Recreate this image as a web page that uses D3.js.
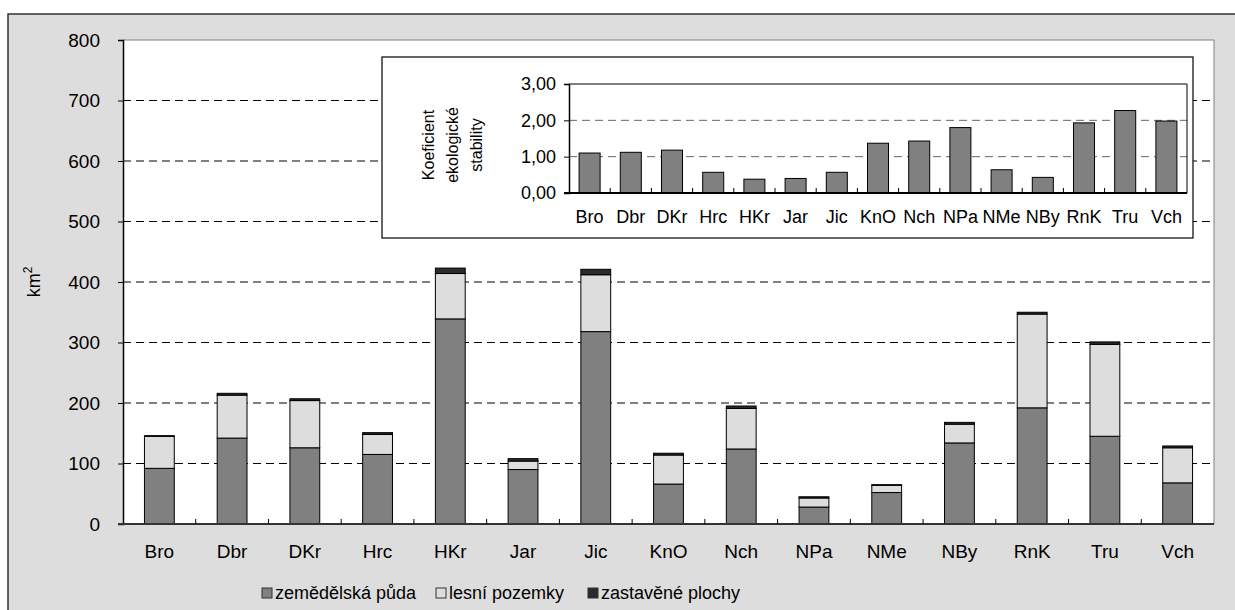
<!DOCTYPE html>
<html>
<head>
<meta charset="utf-8">
<script src="https://cdn.jsdelivr.net/npm/d3@7"></script>
<style>
	body { margin:0; background:#fff; }
	svg { font-family:"Liberation Sans", Arial, sans-serif; }
</style>
</head>
<body>
<svg id="chart" width="1235" height="610"></svg>
<script>
// okresy
var okresy = ["Bro","Dbr","DKr","Hrc","HKr","Jar","Jic","KnO","Nch","NPa","NMe","NBy","RnK","Tru","Vch"]

// km2
var zemedelska = [92,142,126,115,339,90,318,66,124,28,52,134,192,145,68]
var lesni      = [53,71,78,33,75,14,94,48,67,15,12,31,155,152,58]
var zastavene  = [1,3,3,3,9,4,9,3,4,2,1,3,3,4,3]

// koeficient ekologicke stability
var kes = [1.10,1.12,1.18,0.57,0.38,0.40,0.57,1.37,1.43,1.80,0.64,0.43,1.93,2.27,1.98]

var yTicks = [0,100,200,300,400,500,600,700,800]
var kesTicks = [0,1,2,3]
var nazvy = ["zemědělská půda","lesní pozemky","zastavěné plochy"]
var barvy = ["#808080","#dddddd","#2b2b2b"]

var svg = d3.select("#chart")

// pozadi grafu
svg.append("rect")
	.attr("x",8).attr("y",14)
	.attr("width",1240).attr("height",610)
	.attr("fill","#dddddd")
	.attr("stroke","#333").attr("stroke-width",1.5)

var pLeft = 123, pRight = 1214, pTop = 40, pBottom = 524

var x = d3.scaleBand().domain(okresy).range([pLeft,pRight]).paddingInner(0.59).paddingOuter(0.295)
var y = d3.scaleLinear().domain([0,800]).range([pBottom,pTop])

svg.append("rect")
	.attr("x",pLeft).attr("y",pTop)
	.attr("width",pRight-pLeft).attr("height",pBottom-pTop)
	.attr("fill","#fff")

// mrizka
svg.append("g").selectAll("line")
	.data(yTicks.slice(1,-1))
	.join("line")
	.attr("x1",pLeft).attr("x2",pRight)
	.attr("y1",d=>y(d)).attr("y2",d=>y(d))
	.attr("stroke","#000").attr("stroke-dasharray","8,5")

// ramecek vpravo a nahore
svg.append("path")
	.attr("d","M"+pLeft+","+y(800)+"H"+pRight+"V"+pBottom)
	.attr("fill","none").attr("stroke","#808080")

// sloupce
var tabulka = okresy.map(function(o,i){ return {okres:o, z:zemedelska[i], l:lesni[i], s:zastavene[i]} })
var stack = d3.stack().keys(["z","l","s"])(tabulka)

svg.append("g").selectAll("g")
	.data(stack)
	.join("g")
	.attr("fill",(d,i)=>barvy[i])
	.selectAll("rect")
	.data(d=>d)
	.join("rect")
	.attr("x",d=>x(d.data.okres))
	.attr("width",x.bandwidth())
	.attr("y",d=>y(d[1]))
	.attr("height",d=>y(d[0])-y(d[1]))
	.attr("stroke","#000").attr("stroke-width",1)

// osa y
var yAxis = svg.append("g")
	.attr("transform","translate("+pLeft+",0)")
	.call(d3.axisLeft(y).tickValues(yTicks).tickSize(5).tickPadding(18))
yAxis.select(".domain").attr("stroke","#000").attr("stroke-width",1.5)
yAxis.selectAll("text").attr("font-size",19).attr("fill","#000").attr("font-family","Liberation Sans, Arial")

// osa x
var xAxis = svg.append("g")
	.attr("transform","translate(0,"+pBottom+")")
	.call(d3.axisBottom(x).tickSize(0).tickPadding(21))
xAxis.select(".domain").remove()
xAxis.selectAll("text").attr("font-size",19).attr("fill","#000").attr("font-family","Liberation Sans, Arial")

svg.append("line")
	.attr("x1",pLeft-5).attr("x2",pRight)
	.attr("y1",pBottom).attr("y2",pBottom)
	.attr("stroke","#333").attr("stroke-width",2)

svg.append("g").selectAll("line")
	.data(okresy.slice(1))
	.join("line")
	.attr("x1",d=>x(d)-x.step()*x.paddingInner()/2)
	.attr("x2",d=>x(d)-x.step()*x.paddingInner()/2)
	.attr("y1",pBottom).attr("y2",pBottom-5)
	.attr("stroke","#000")

svg.append("text")
	.attr("transform","translate(40,"+(pTop+pBottom)/2+") rotate(-90)")
	.attr("text-anchor","middle")
	.attr("font-size",18)
	.text("km")
	.append("tspan").attr("dy",-8).attr("font-size",12).text("2")

// legenda
var legenda = svg.append("g").attr("transform","translate(262,593)")
var posuny = [0,174,326]
legenda.selectAll("g")
	.data(nazvy)
	.join("g")
	.attr("transform",(d,i)=>"translate("+posuny[i]+",0)")
	.each(function(d,i){
		var g = d3.select(this)
		g.append("rect").attr("x",0).attr("y",-5).attr("width",10).attr("height",10)
			.attr("fill",barvy[i]).attr("stroke","#333")
		g.append("text").attr("x",13).attr("y",6).attr("font-size",18).text(d)
	})

// vlozeny graf - koeficient
var ix0 = 382, ix1 = 1193, iy0 = 57, iy1 = 238
svg.append("rect")
	.attr("x",ix0).attr("y",iy0)
	.attr("width",ix1-ix0).attr("height",iy1-iy0)
	.attr("fill","#fff").attr("stroke","#000").attr("stroke-width",1.2)

var pl = 569, pr = 1187, pt = 84, pb = 193
var kx = d3.scaleBand().domain(okresy).range([pl,pr]).paddingInner(0.49).paddingOuter(0.245)
var ky = d3.scaleLinear().domain([0,3]).range([pb,pt])

svg.append("g").selectAll("line")
	.data(kesTicks.slice(1,-1))
	.join("line")
	.attr("x1",pl).attr("x2",pr)
	.attr("y1",d=>ky(d)).attr("y2",d=>ky(d))
	.attr("stroke","#666").attr("stroke-dasharray","8,5")

svg.append("path")
	.attr("d","M"+pl+","+ky(3)+"H"+pr+"V"+pb)
	.attr("fill","none").attr("stroke","#000")

svg.append("g").selectAll("rect")
	.data(kes)
	.join("rect")
	.attr("x",(d,i)=>kx(okresy[i]))
	.attr("width",kx.bandwidth())
	.attr("y",d=>ky(d))
	.attr("height",d=>pb-ky(d))
	.attr("fill","#808080").attr("stroke","#000")

var kyAxis = svg.append("g")
	.attr("transform","translate("+pl+",0)")
	.call(d3.axisLeft(ky).tickValues(kesTicks).tickSize(5).tickPadding(8)
		.tickFormat(d=>d3.format(".2f")(d).replace(".",",")))
kyAxis.select(".domain").attr("stroke","#000").attr("stroke-width",1.5)
kyAxis.selectAll("text").attr("font-size",18).attr("fill","#000").attr("font-family","Liberation Sans, Arial")

var kxAxis = svg.append("g")
	.attr("transform","translate(0,"+pb+")")
	.call(d3.axisBottom(kx).tickSize(0).tickPadding(17))
kxAxis.select(".domain").remove()
kxAxis.selectAll("text").attr("font-size",18).attr("fill","#000").attr("font-family","Liberation Sans, Arial")

svg.append("line")
	.attr("x1",pl-5).attr("x2",pr)
	.attr("y1",pb).attr("y2",pb)
	.attr("stroke","#000").attr("stroke-width",2)

svg.append("g").selectAll("line")
	.data(okresy.slice(1))
	.join("line")
	.attr("x1",d=>kx(d)-kx.step()*kx.paddingInner()/2)
	.attr("x2",d=>kx(d)-kx.step()*kx.paddingInner()/2)
	.attr("y1",pb).attr("y2",pb-5)
	.attr("stroke","#000")

svg.append("text")
	.attr("transform","translate(452,145) rotate(-90)")
	.attr("text-anchor","middle")
	.attr("font-size",16)
	.selectAll("tspan")
	.data(["Koeficient","ekologické","stability"])
	.join("tspan")
	.attr("x",0)
	.attr("dy",(d,i)=>i==0 ? -18 : 24)
	.text(d=>d)
</script>
</body>
</html>
